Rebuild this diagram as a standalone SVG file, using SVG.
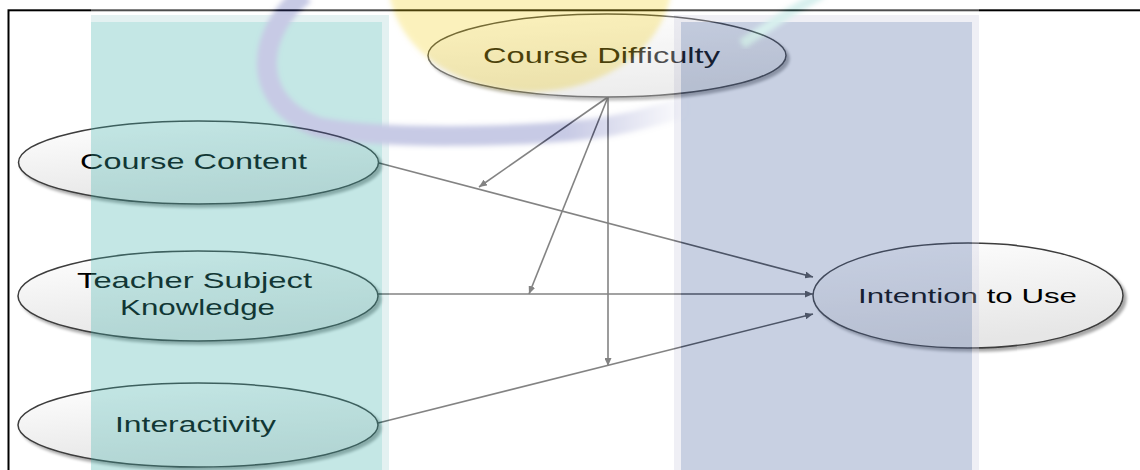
<svg xmlns="http://www.w3.org/2000/svg" width="1140" height="470" viewBox="0 0 1140 470">
<style>
.node{fill:url(#nodeFill);stroke:#3c3c3c;stroke-width:1.5;filter:url(#shadow)}
.lbl{font-family:"Liberation Sans",Arial,sans-serif;font-size:22px;fill:#000}
.conn{stroke:#4e4e4e;stroke-width:1.6;fill:none;marker-end:url(#arr)}
</style>
<defs>
<linearGradient id="nodeFill" x1="0" y1="0" x2="0.3" y2="1">
<stop offset="0" stop-color="#ffffff"/>
<stop offset="1" stop-color="#e6e6e6"/>
</linearGradient>
<filter id="shadow" x="-10%" y="-20%" width="125%" height="150%">
<feGaussianBlur in="SourceAlpha" stdDeviation="1.5"/>
<feOffset dx="3" dy="3" result="b"/>
<feComponentTransfer><feFuncA type="linear" slope="0.35"/></feComponentTransfer>
<feMerge><feMergeNode/><feMergeNode in="SourceGraphic"/></feMerge>
</filter>
<filter id="soft" x="-10%" y="-10%" width="120%" height="120%">
<feGaussianBlur stdDeviation="2.5"/>
</filter>
<marker id="arr" markerUnits="userSpaceOnUse" markerWidth="8" markerHeight="7" refX="8" refY="3.5" orient="auto">
<path d="M0,0 L8,3.5 L0,7 z" fill="#4e4e4e"/>
</marker>
<linearGradient id="arcFade" gradientUnits="userSpaceOnUse" x1="250" y1="0" x2="690" y2="0">
<stop offset="0" stop-color="#4a52ab"/>
<stop offset="0.72" stop-color="#4a52ab"/>
<stop offset="1" stop-color="#4a52ab" stop-opacity="0"/>
</linearGradient>
</defs>
<rect x="0" y="0" width="1140" height="470" fill="#ffffff"/>
<rect x="8.5" y="10.3" width="1200" height="500" fill="none" stroke="#000" stroke-width="2"/>
<g id="connectors">
<line class="conn" x1="379" y1="163" x2="813" y2="277"/>
<line class="conn" x1="378" y1="294" x2="813" y2="294"/>
<line class="conn" x1="378" y1="423" x2="813" y2="314"/>
<line class="conn" x1="608" y1="97" x2="479" y2="187"/>
<line class="conn" x1="608" y1="97" x2="529" y2="294"/>
<line class="conn" x1="608" y1="97" x2="608" y2="366"/>
</g>
<g id="node-course-difficulty">
<ellipse class="node" cx="607" cy="55.5" rx="179" ry="41.5"/>
<text class="lbl" x="483" y="63" textLength="237" lengthAdjust="spacingAndGlyphs">Course Difficulty</text>
</g>
<g id="node-course-content">
<ellipse class="node" cx="198.5" cy="162.5" rx="180" ry="41.5"/>
<text class="lbl" x="80" y="169" textLength="227" lengthAdjust="spacingAndGlyphs">Course Content</text>
</g>
<g id="node-teacher-subject-knowledge">
<ellipse class="node" cx="198" cy="296" rx="180" ry="45"/>
<text class="lbl" x="77" y="288" textLength="235" lengthAdjust="spacingAndGlyphs">Teacher Subject</text>
<text class="lbl" x="120" y="315" textLength="155" lengthAdjust="spacingAndGlyphs">Knowledge</text>
</g>
<g id="node-interactivity">
<ellipse class="node" cx="198" cy="425" rx="180" ry="42"/>
<text class="lbl" x="115" y="432" textLength="161" lengthAdjust="spacingAndGlyphs">Interactivity</text>
</g>
<g id="node-intention-to-use">
<ellipse class="node" cx="968" cy="295.5" rx="155" ry="52.5"/>
<text class="lbl" x="858" y="303" style="font-size:20px" textLength="219" lengthAdjust="spacingAndGlyphs">Intention to Use</text>
</g>
<g id="watermark" opacity="0.3">
<rect x="91" y="0" width="888" height="470" fill="#ffffff"/>
<rect x="91" y="15" width="298" height="455" fill="#a5d4d4"/>
<rect x="91" y="22" width="291" height="448" fill="#3eb2ac"/>
<rect x="674" y="15" width="305" height="455" fill="#cdcde1"/>
<rect x="681" y="22" width="291" height="448" fill="#4b66a2"/>
<ellipse cx="530" cy="-20" rx="142" ry="112" fill="#f5d426" filter="url(#soft)"/>
<path d="M305,-6 C256,30 248,102 318,127 C380,140 520,137 590,129 C625,125 650,117 690,106" fill="none" stroke="url(#arcFade)" stroke-width="20" filter="url(#soft)"/>
<path d="M822,-6 L790,12 L742,44" fill="none" stroke="#7fcfc8" stroke-width="10" filter="url(#soft)"/>
</g>
</svg>
